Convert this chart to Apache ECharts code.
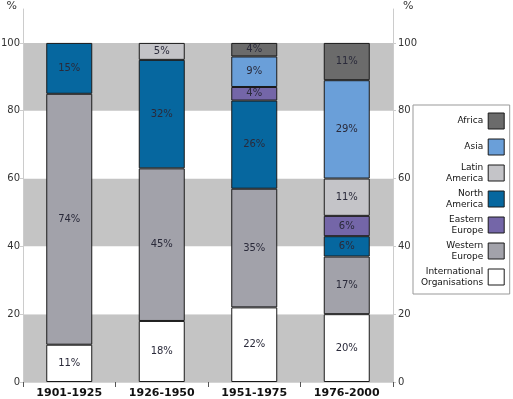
<!DOCTYPE html>
<html>
<head>
<meta charset="utf-8">
<script src="https://cdn.jsdelivr.net/npm/echarts@6/dist/echarts.min.js"></script>
<style>
  html, body { margin: 0; padding: 0; background: #fff; }
  #chart { width: 513px; height: 399px; }
</style>
</head>
<body>
<div id="chart"></div>
<script>
// 时期
const periods = ['1901-1925', '1926-1950', '1951-1975', '1976-2000']
// 各地区占比 (%)，由下到上堆叠
const intlOrgs = [11, 18, 22, 20]
const westernEurope = [74, 45, 35, 17]
const northAmerica = [15, 32, 26, 6]
const easternEurope = [0, 0, 4, 6]
const latinAmerica = [0, 5, 0, 11]
const asia = [0, 0, 9, 29]
const africa = [0, 0, 4, 11]

const legendLabels = {
  'Africa': 'Africa',
  'Asia': 'Asia',
  'Latin America': 'Latin\nAmerica',
  'North America': 'North\nAmerica',
  'Eastern Europe': 'Eastern\nEurope',
  'Western Europe': 'Western\nEurope',
  'International Organisations': 'International\nOrganisations'
}

const font = 'DejaVu Sans, Verdana, sans-serif'

function makeSeries(name, data, color) {
  return {
    name: name,
    type: 'bar',
    stack: 'total',
    barWidth: 46,
    data: data.map(v => (v === 0 ? null : v)),
    itemStyle: { color: color, borderColor: '#1a1a1a', borderWidth: 1 },
    label: {
      show: true,
      position: 'inside',
      formatter: '{c}%',
      color: '#2a2a3a',
      fontFamily: font,
      fontSize: 10
    }
  }
}

let myChart = echarts.init(document.getElementById('chart'))
myChart.setOption({
  animation: false,
  grid: { left: 23, right: 120, top: 9, bottom: 17, outerBoundsMode: 'none' },
  legend: {
    orient: 'vertical',
    left: 413,
    top: 105,
    align: 'right',
    icon: 'rect',
    itemWidth: 16,
    itemHeight: 16,
    itemGap: 4,
    padding: [5, 5, 6, 8],
    backgroundColor: '#fff',
    borderColor: '#999',
    borderWidth: 1,
    borderRadius: 0,
    data: ['Africa', 'Asia', 'Latin America', 'North America', 'Eastern Europe', 'Western Europe', 'International Organisations'],
    formatter: name => legendLabels[name],
    itemStyle: { borderColor: '#1a1a1a', borderWidth: 1 },
    textStyle: {
      fontFamily: font,
      fontSize: 9,
      color: '#111',
      lineHeight: 11,
      height: 22,
      align: 'right',
      verticalAlign: 'middle'
    }
  },
  xAxis: [
    {
      type: 'category',
      data: periods,
      axisLine: { lineStyle: { color: '#555' } },
      axisTick: { show: true, length: 5, lineStyle: { color: '#555' } },
      axisLabel: {
        margin: 6,
        fontFamily: font,
        fontSize: 11,
        fontWeight: 'bold',
        color: '#111'
      }
    },
    {
      type: 'category',
      data: periods,
      position: 'top',
      axisLine: { lineStyle: { color: '#d4d4d4' } },
      axisTick: { show: false },
      axisLabel: { show: false }
    }
  ],
  yAxis: [
    {
      type: 'value',
      min: 0,
      max: 110,
      interval: 20,
      name: '%',
      nameLocation: 'end',
      nameGap: 0,
      nameTextStyle: { fontFamily: font, fontSize: 11, color: '#333', align: 'right', verticalAlign: 'bottom', padding: [0, 6, -3, 0] },
      axisLine: { show: true, lineStyle: { color: '#ccc' } },
      axisTick: { show: true, length: 3, lineStyle: { color: '#ccc' } },
      axisLabel: {
        showMaxLabel: false,
        fontFamily: font,
        fontSize: 10,
        color: '#333',
        margin: 3
      },
      splitLine: { show: false },
      splitArea: { show: true, areaStyle: { color: ['#c4c4c4', '#fff'] } }
    },
    {
      type: 'value',
      min: 0,
      max: 110,
      interval: 20,
      position: 'right',
      name: '%',
      nameLocation: 'end',
      nameGap: 0,
      nameTextStyle: { fontFamily: font, fontSize: 11, color: '#333', align: 'left', verticalAlign: 'bottom', padding: [0, 0, -3, 10] },
      axisLine: { show: true, lineStyle: { color: '#ccc' } },
      axisTick: { show: true, length: 3, lineStyle: { color: '#ccc' } },
      axisLabel: {
        showMaxLabel: false,
        fontFamily: font,
        fontSize: 10,
        color: '#333',
        margin: 5
      },
      splitLine: { show: false }
    }
  ],
  series: [
    makeSeries('International Organisations', intlOrgs, '#ffffff'),
    makeSeries('Western Europe', westernEurope, '#a2a2aa'),
    makeSeries('North America', northAmerica, '#06679f'),
    makeSeries('Eastern Europe', easternEurope, '#7466a8'),
    makeSeries('Latin America', latinAmerica, '#c4c4c8'),
    makeSeries('Asia', asia, '#6a9fd9'),
    makeSeries('Africa', africa, '#6b6b6b')
  ]
})
</script>
</body>
</html>
